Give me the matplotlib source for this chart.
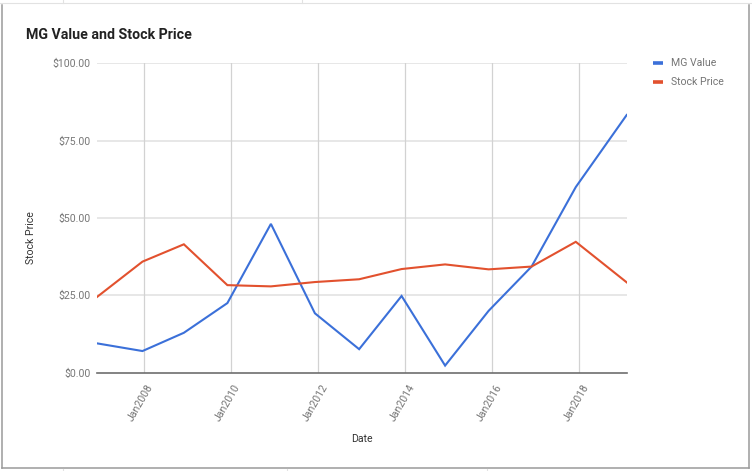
import datetime as dt
import matplotlib
matplotlib.use("Agg")
import matplotlib.pyplot as plt
import matplotlib.dates as mdates
from matplotlib.lines import Line2D
from matplotlib.transforms import ScaledTranslation

plt.rcParams['font.family'] = ['Roboto', 'DejaVu Sans']

# ---- data ----
dates = ["2006-12-01", "2007-12-20", "2008-12-01", "2009-12-01", "2010-12-01",
         "2011-12-05", "2012-12-10", "2013-12-01", "2014-12-01", "2015-12-01",
         "2016-11-25", "2017-12-01", "2019-02-01"]
mg_value = [9.5, 7.0, 12.9, 22.5, 48.1, 19.2, 7.6, 24.8, 2.3, 20.0, 34.3, 60.0, 83.3]
stock_price = [24.4, 35.9, 41.5, 28.3, 27.9, 29.3, 30.2, 33.5, 35.0, 33.4, 34.3, 42.3, 29.2]
tick_years = [2008, 2010, 2012, 2014, 2016, 2018]
y_ticks = [0, 25, 50, 75, 100]
series_names = ["MG Value", "Stock Price"]
colors = ["#3b70d9", "#e2512e"]

x = [dt.datetime.strptime(d, "%Y-%m-%d") for d in dates]

W, H = 752, 471
fig = plt.figure(figsize=(W / 100, H / 100), dpi=100)

def fx(px):
    return px / W

def fy(py):
    return 1 - py / H

left, right, top, bottom = 96.7, 626.7, 63.3, 372.7
ax = fig.add_axes([fx(left), fy(bottom), fx(right) - fx(left), fy(top) - fy(bottom)])

l1, = ax.plot(x, mg_value, color=colors[0], lw=1.5, zorder=3, solid_joinstyle='miter')
l2, = ax.plot(x, stock_price, color=colors[1], lw=1.5, zorder=3, solid_joinstyle='miter')

ax.set_xlim(x[0], x[-1])
ax.set_ylim(0, 100)

# gridlines
for v in y_ticks[1:]:
    ax.axhline(v, color="#e3e3e3", lw=1.2, zorder=1)
ticks = [dt.datetime(y, 1, 1) for y in tick_years]
for t in ticks:
    ax.axvline(t, color="#d2d2d2", lw=0.9, zorder=1)
ax.axhline(0, color="#6e6e6e", lw=1.2, zorder=4, clip_on=False)

for s in ax.spines.values():
    s.set_visible(False)

ax.set_yticks(y_ticks)
ax.set_yticklabels([f"${v:.2f}" for v in y_ticks], fontsize=7.6, color="#777777")
ax.set_xticks(ticks)
ax.set_xticklabels([f"Jan{y}" for y in tick_years], fontsize=7.6, color="#777777",
                   rotation=60, ha="right", va="center", rotation_mode="anchor")
ax.tick_params(axis="both", length=0)
ax.tick_params(axis="y", pad=4.3)
ax.tick_params(axis="x", pad=9)
for lab in ax.get_xticklabels():
    lab.set_transform(lab.get_transform() + ScaledTranslation(7 / 100, 0, fig.dpi_scale_trans))

# texts
fig.text(fx(26), fy(35), "MG Value and Stock Price", fontsize=10.2, fontweight="bold",
         color="#222222", ha="left", va="center")
fig.text(fx(31), fy(238), "Stock Price", fontsize=7.6, color="#333333", rotation=90,
         ha="center", va="center")
fig.text(fx(362), fy(439), "Date", fontsize=7.6, color="#333333", ha="center", va="center")

# legend
for i, (name, c) in enumerate(zip(series_names, colors)):
    yy = 63.3 + 19 * i
    fig.add_artist(Line2D([fx(652.7), fx(663.3)], [fy(yy), fy(yy)], color=c, lw=2.6,
                          solid_capstyle="butt"))
    fig.text(fx(671), fy(yy), name, fontsize=7.6, color="#757575", ha="left", va="center")

# spreadsheet frame
frame_c = "#9a9a9a"
fig.add_artist(Line2D([fx(2.3), fx(2.3)], [fy(5), fy(468.3)], color=frame_c, lw=1.1))
fig.add_artist(Line2D([fx(2.3), fx(748.7)], [fy(468.3), fy(468.3)], color=frame_c, lw=1.1))
fig.add_artist(Line2D([fx(748.7), fx(748.7)], [fy(5), fy(468.3)], color=frame_c, lw=1.1))
fig.add_artist(Line2D([0, 1], [fy(3), fy(3)], color="#e2e2e2", lw=0.8))
for px in [63, 302]:
    fig.add_artist(Line2D([fx(px), fx(px)], [fy(0), fy(3)], color="#e2e2e2", lw=0.8))
for px in [63, 287, 487]:
    fig.add_artist(Line2D([fx(px), fx(px)], [fy(469), fy(471)], color="#e2e2e2", lw=0.8))

fig.savefig("out.png", dpi=100)
